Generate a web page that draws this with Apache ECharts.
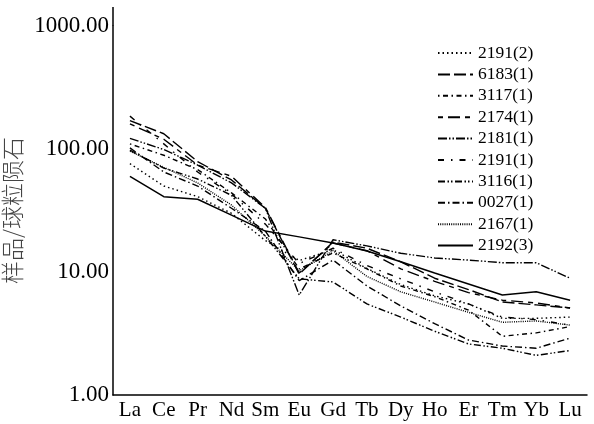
<!DOCTYPE html>
<html><head><meta charset="utf-8">
<script src="https://cdn.jsdelivr.net/npm/echarts@6/dist/echarts.min.js"></script>
<style>html,body{margin:0;padding:0;background:#fff}#c{width:594px;height:424px}</style>
</head><body><div id="c"></div>
<script>
const categories = ['La','Ce','Pr','Nd','Sm','Eu','Gd','Tb','Dy','Ho','Er','Tm','Yb','Lu'];
const yTicks = [1, 10, 100, 1000];
const yAxisName = '样品/球粒陨石';
const seriesNames = ['2191(2)','6183(1)','3117(1)','2174(1)','2181(1)','2191(1)','3116(1)','0027(1)','2167(1)','2192(3)'];

const s2191_2 = [76, 50, 41, 30, 18, 12.4, 15.2, 10.7, 7.9, 6.4, 5.5, 4.2, 4.2, 4.3];
const s6183_1 = [170, 133, 79, 56, 33, 9.6, 17.5, 15.6, 12.1, 8.9, 7.2, 5.7, 5.4, 5.1];
const s3117_1 = [110, 89, 68, 44, 27, 10.6, 14.3, 10.6, 7.7, 6.3, 4.9, 3.0, 3.2, 3.6];
const s2174_1 = [160, 120, 74, 60, 33.5, 9.8, 17.2, 14.9, 10.6, 8.4, 6.8, 5.9, 5.6, 5.1];
const s2181_1 = [122, 99, 74, 53, 33, 6.5, 18.3, 16.3, 14.2, 13.0, 12.5, 11.9, 11.9, 8.9];
const s2191_1 = [185, 110, 65, 43, 24.5, 11.7, 15.6, 11.3, 8.8, 6.9, 5.5, 4.3, 4.1, 3.7];
const s3116_1 = [98, 70, 57, 42, 19.5, 8.8, 8.3, 5.5, 4.3, 3.3, 2.6, 2.4, 2.1, 2.3];
const s0027_1 = [102, 65, 50, 33, 21.5, 8.5, 12.5, 7.7, 5.3, 3.8, 2.8, 2.5, 2.4, 2.9];
const s2167_1 = [96, 71, 53, 35, 19.6, 10.2, 14.9, 9.2, 6.9, 5.7, 4.7, 3.9, 4.0, 3.7];
const s2192_3 = [60, 41, 39, 29, 21.5, 19.3, 17.2, 14.8, 12.1, 9.8, 8.0, 6.5, 6.9, 5.9];

const seriesData = [s2191_2, s6183_1, s3117_1, s2174_1, s2181_1, s2191_1, s3116_1, s0027_1, s2167_1, s2192_3];
const dashTypes = [
  [1.5, 3],
  [12, 4],
  [1.5, 3.5, 5, 3.5],
  [5, 5, 12, 5],
  [9, 2, 1.5, 2, 1.5, 2],
  [6, 7, 1.5, 7],
  [7, 2.5, 1.5, 2, 1.5, 2.5],
  [7, 3, 1.5, 3],
  [1, 1.2],
  'solid'
];

const chart = echarts.init(document.getElementById('c'), null, {renderer: 'canvas'});
const serif = '"Liberation Serif","Times New Roman",serif';
chart.setOption({
  animation: false,
  backgroundColor: '#fff',
  grid: {left: 113, top: 26, right: 7, bottom: 29, containLabel: false, outerBoundsMode: 'none'},
  xAxis: {
    type: 'category', data: categories, boundaryGap: true,
    axisLine: {lineStyle: {color: '#000', width: 1.5}},
    axisTick: {alignWithLabel: true, inside: true, length: 5, lineStyle: {color: '#000', width: 1.2}},
    axisLabel: {color: '#000', fontFamily: serif, fontSize: 21, margin: 5, interval: 0},
    splitLine: {show: false}
  },
  yAxis: {
    type: 'log', logBase: 10, min: 1, max: 1000,
    name: yAxisName, nameLocation: 'middle', nameGap: 82, nameRotate: 90,
    nameTextStyle: {color: '#444', fontFamily: '"Noto Sans CJK SC"', fontSize: 23, fontWeight: 300},
    axisLine: {show: true, lineStyle: {color: '#000', width: 1.5}},
    axisTick: {inside: true, length: 6, lineStyle: {color: '#000', width: 1.2}},
    axisLabel: {color: '#000', fontFamily: serif, fontSize: 23, margin: 4,
      formatter: v => yTicks.indexOf(Math.round(v)) >= 0 ? Number(v).toFixed(2) : ''},
    splitLine: {show: false}
  },
  legend: {
    orient: 'vertical', left: 432, top: 39,
    itemWidth: 35, itemHeight: 10, itemGap: 3.4,
    data: seriesNames,
    textStyle: {color: '#000', fontFamily: serif, fontSize: 17.5},
    itemStyle: {opacity: 0, borderWidth: 0}
  },
  graphic: [{type: 'line', shape: {x1: 113, y1: 7, x2: 113, y2: 26}, style: {stroke: '#000', lineWidth: 1.5}}],
  series: seriesNames.map((n, i) => ({
    name: n, type: 'line', data: seriesData[i], symbol: 'none',
    lineStyle: {color: '#000', width: i === 9 ? 1.5 : 1.4, type: dashTypes[i]},
    itemStyle: {color: '#000'}
  }))
});
</script></body></html>
